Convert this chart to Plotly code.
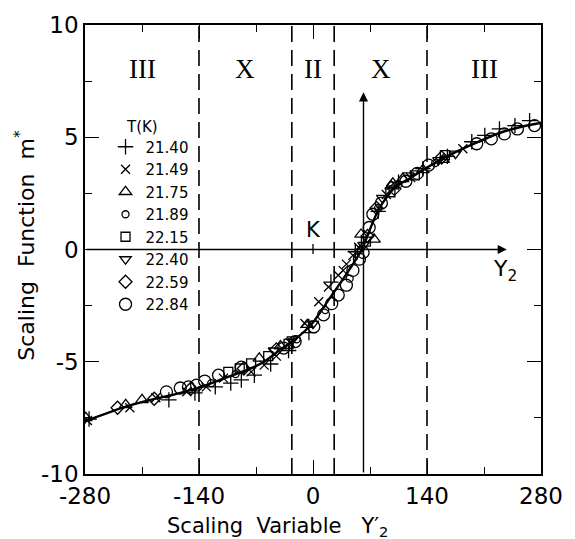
import plotly.graph_objects as go

# ---------------- data ----------------
temps = ["21.40", "21.49", "21.75", "21.89", "22.15", "22.40", "22.59", "22.84"]
symbols = ["cross-thin-open", "x-thin-open", "triangle-up-open", "circle-open",
           "square-open", "triangle-down-open", "diamond-open", "circle-open"]
sizes = [11, 9, 11, 7, 9, 10, 10, 12]

x_2140 = [-275, -177, -145, -120, -101, -88, -72, -52, -30, -5, 22, 52, 80, 105, 135, 165, 195, 211, 229, 248, 266]
y_2140 = [-7.55, -6.70, -6.39, -6.12, -5.95, -5.81, -5.60, -5.10, -4.50, -3.70, -1.45, -0.10, 1.70, 3.00, 3.60, 4.15, 4.80, 5.08, 5.37, 5.52, 5.74]

x_2149 = [-277, -225, -193, -155, -131, -110, -76, -60, -45, -28, -10, 7, 19, 31, 37, 41, 49, 56, 90, 120, 184]
y_2149 = [-7.62, -7.05, -6.60, -6.34, -6.12, -5.73, -5.45, -5.15, -4.75, -4.15, -3.30, -2.33, -1.67, -1.15, -0.93, -0.65, -0.26, 0.10, 2.45, 3.20, 4.49]

x_2175 = [-279, -230, -210, -66, -40, -7, 59, 75, 96, 98, 110, 135, 160]
y_2175 = [-7.50, -6.92, -6.70, -4.85, -4.30, -3.35, 0.67, 0.45, 2.82, 2.95, 3.15, 3.55, 4.00]

x_2189 = [-125, -95, -20, 15, 45, 80, 105, 150]
y_2189 = [-5.95, -5.55, -4.00, -2.70, -1.30, 1.85, 2.90, 3.85]

x_2215 = [-104, -90, -76, -55, -30, 65, 95, 125, 162]
y_2215 = [-5.45, -5.30, -5.07, -4.75, -4.20, 0.35, 2.55, 3.30, 4.20]

x_2240 = [-48, -25, 0, 62, 85, 117, 154, 175]
y_2240 = [-4.50, -4.00, -3.30, 0.20, 2.30, 3.30, 3.98, 4.27]

x_2259 = [-240, -195, -150, -85, -45, 67, 78, 100, 158]
y_2259 = [-7.05, -6.65, -6.20, -5.30, -4.45, 0.60, 1.85, 2.70, 4.10]

x_2284 = [-180, -163, -153, -143, -133, -116, -88, -36, -22, 1, 13, 23, 31, 41, 49, 57, 61.5, 69, 73.5, 84, 114, 128, 142, 201, 219, 235, 251, 272]
y_2284 = [-6.34, -6.17, -6.12, -6.04, -5.86, -5.60, -5.24, -4.39, -4.10, -3.44, -2.91, -2.41, -2.03, -1.59, -0.93, -0.43, -0.13, 0.98, 1.57, 2.07, 3.04, 3.39, 3.76, 4.71, 4.93, 5.15, 5.37, 5.52]

series_x = [x_2140, x_2149, x_2175, x_2189, x_2215, x_2240, x_2259, x_2284]
series_y = [y_2140, y_2149, y_2175, y_2189, y_2215, y_2240, y_2259, y_2284]

# smooth scaling curve drawn through the data
curve_x = [-280, -230, -200, -170, -140, -110, -80, -60, -40, -20, 0, 20, 40, 50, 60, 70, 80, 90, 100, 120, 140, 170, 200, 230, 260, 280]
curve_y = [-7.65, -7.00, -6.70, -6.45, -6.15, -5.75, -5.35, -5.00, -4.45, -3.95, -3.25, -2.20, -1.15, -0.60, 0.00, 0.90, 1.75, 2.30, 2.75, 3.20, 3.65, 4.25, 4.75, 5.20, 5.50, 5.65]

# region boundaries and labels
region_bounds = [-140, -26, 26, 140]
region_centers = [-210, -83, 0, 83, 210]
region_labels = ["III", "X", "II", "X", "III"]
region_label_y = 8.05

x_ticks = [-280, -140, 0, 140, 280]
x_tick_text = ["-280", "-140", "0", "140", "280"]
y_ticks = [-10, -5, 0, 5, 10]
y_tick_text = ["-10", "-5", "0", "5", "10"]

arrow_x = 62        # vertical arrow position
arrow_top = 7.0
haxis_end = 238     # horizontal arrow end

FONT = "DejaVu Sans"

fig = go.Figure()

fig.add_trace(go.Scatter(x=curve_x, y=curve_y, mode="lines",
                         line=dict(color="black", width=2.4, shape="spline", smoothing=0.6),
                         showlegend=False, hoverinfo="skip"))

for t, sx, sy, sym, sz in zip(temps, series_x, series_y, symbols, sizes):
    fig.add_trace(go.Scatter(x=sx, y=sy, mode="markers", name=t,
                             marker=dict(symbol=sym, size=sz, color="black",
                                         line=dict(color="black", width=1.3))))

# dashed region boundaries
for b in region_bounds:
    fig.add_shape(type="line", x0=b, x1=b, y0=-10, y1=10, xref="x", yref="y",
                  line=dict(color="black", width=1.6, dash="16px,8px"))

# small tick at origin on the zero line
fig.add_shape(type="line", x0=0, x1=0, y0=-0.2, y1=0.25, xref="x", yref="y",
              line=dict(color="black", width=1.3))

# arrows
fig.add_annotation(x=arrow_x, y=arrow_top, ax=arrow_x, ay=-10, xref="x", yref="y",
                   axref="x", ayref="y", showarrow=True, arrowhead=2, arrowsize=1.3,
                   arrowwidth=1.4, arrowcolor="black", text="")
fig.add_annotation(x=haxis_end, y=0, ax=-280, ay=0, xref="x", yref="y",
                   axref="x", ayref="y", showarrow=True, arrowhead=2, arrowsize=1.3,
                   arrowwidth=1.4, arrowcolor="black", text="")

for cx, lab in zip(region_centers, region_labels):
    fig.add_annotation(x=cx, y=region_label_y, text=lab, showarrow=False,
                       font=dict(family="Liberation Serif", size=27, color="black"))

fig.add_annotation(x=0, y=0.85, text="K", showarrow=False,
                   font=dict(family=FONT, size=21, color="black"))
fig.add_annotation(x=236, y=-0.95, text="Y<sub>2</sub>", showarrow=False,
                   font=dict(family=FONT, size=22, color="black"))
fig.add_annotation(x=-210, y=5.45, text="T(K)", showarrow=False,
                   font=dict(family=FONT, size=15, color="black"))

# axis titles
fig.add_annotation(x=0.422, y=-0.119, xref="paper", yref="paper", showarrow=False,
                   text="Scaling  Variable   Y′<sub>2</sub>", xanchor="center", yanchor="middle",
                   font=dict(family=FONT, size=21, color="black"))
fig.add_annotation(x=-0.131, y=0.509, xref="paper", yref="paper", showarrow=False,
                   text="Scaling  Function  m<sup>*</sup>", textangle=-90,
                   xanchor="center", yanchor="middle",
                   font=dict(family=FONT, size=22, color="black"))

fig.update_layout(
    width=575, height=539,
    margin=dict(l=85, r=28, t=20, b=65),
    paper_bgcolor="white", plot_bgcolor="white",
    font=dict(family=FONT, color="black"),
    showlegend=True,
    legend=dict(x=0.045, y=0.765, xanchor="left", yanchor="top",
                bgcolor="rgba(0,0,0,0)", font=dict(family=FONT, size=15),
                tracegroupgap=0),
    xaxis=dict(range=[-280, 280], tickvals=x_ticks, ticktext=x_tick_text,
               ticks="inside", ticklen=14, tickwidth=1.4, tickcolor="black",
               minor=dict(dtick=70, tick0=0, ticks="inside", ticklen=7, tickwidth=1.4, tickcolor="black"),
               showline=True, linecolor="black", linewidth=1.6, mirror="ticks",
               showgrid=False, zeroline=False, ticklabelstandoff=1,
               tickfont=dict(family=FONT, size=23)),
    yaxis=dict(range=[-10, 10], tickvals=y_ticks, ticktext=y_tick_text,
               ticks="inside", ticklen=14, tickwidth=1.4, tickcolor="black",
               minor=dict(dtick=2.5, tick0=0, ticks="inside", ticklen=7, tickwidth=1.4, tickcolor="black"),
               showline=True, linecolor="black", linewidth=1.6, mirror="ticks",
               showgrid=False, zeroline=False,
               tickfont=dict(family=FONT, size=23)),
)

fig.write_html("out.html")
